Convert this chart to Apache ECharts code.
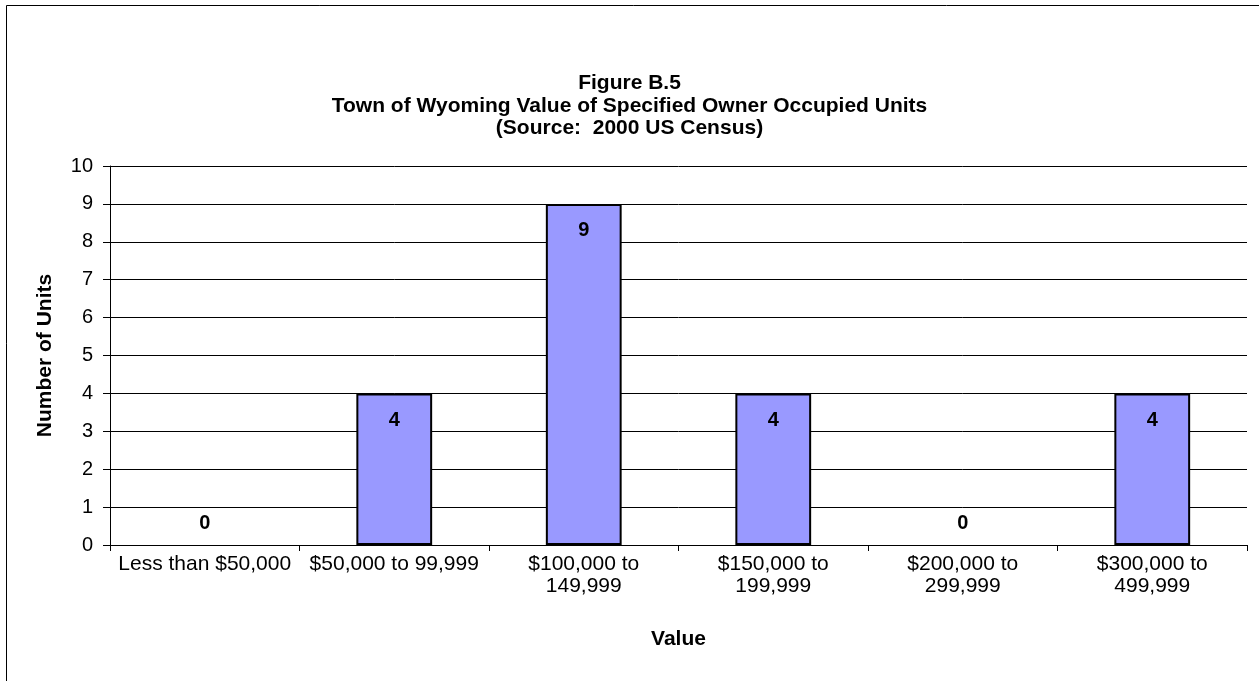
<!DOCTYPE html>
<html>
<head>
<meta charset="utf-8">
<script src="https://cdn.jsdelivr.net/npm/echarts@6/dist/echarts.min.js"></script>
<style>
  html, body { margin: 0; padding: 0; background: #fff; }
  #chart { width: 1259px; height: 681px; }
</style>
</head>
<body>
<div id="chart"></div>
<script>
const categories = [
    "Less than $50,000",
    "$50,000 to 99,999",
    "$100,000 to\n149,999",
    "$150,000 to\n199,999",
    "$200,000 to\n299,999",
    "$300,000 to\n499,999",
];
const units = [0, 4, 9, 4, 0, 4];
const yTicks = [0, 10, 1]; // min, max, interval

const font = "Arial, 'Liberation Sans', sans-serif";

const chart = echarts.init(document.getElementById("chart"));

// zero bars: no outline, label sits just above the axis
const barData = units.map(v => {
    if (v === 0) {
        return {
            value: v,
            itemStyle: { borderWidth: 0 },
            label: { position: "top", distance: 12 },
        };
    }
    return v;
});

const option = {
    animation: false,
    backgroundColor: "#fff",
    textStyle: { fontFamily: font },
    title: {
        text: "Figure B.5\nTown of Wyoming Value of Specified Owner Occupied Units\n(Source:  2000 US Census)",
        left: "center",
        top: 67,
        textStyle: {
            fontFamily: font,
            fontSize: 21,
            fontWeight: "bold",
            color: "#000",
            lineHeight: 22.5,
        },
    },
    graphic: [
        {
            type: "rect",
            shape: { x: 6.5, y: 5.5, width: 1300, height: 700 },
            style: { fill: "none", stroke: "#000", lineWidth: 1 },
            silent: true,
        },
    ],
    grid: {
        left: 110,
        right: 12,
        top: 166,
        bottom: 136,
    },
    xAxis: {
        type: "category",
        data: categories,
        name: "Value",
        nameLocation: "middle",
        nameGap: 84,
        nameTextStyle: {
            fontFamily: font,
            fontSize: 21,
            fontWeight: "bold",
            color: "#000",
        },
        axisLine: { lineStyle: { color: "#000", width: 1 } },
        axisTick: { show: true, length: 6, alignWithLabel: false, lineStyle: { color: "#000" } },
        axisLabel: {
            interval: 0,
            margin: 8,
            fontFamily: font,
            fontSize: 21,
            color: "#000",
            lineHeight: 22,
        },
    },
    yAxis: {
        type: "value",
        min: yTicks[0],
        max: yTicks[1],
        interval: yTicks[2],
        name: "Number of Units",
        nameLocation: "middle",
        nameGap: 54,
        nameTextStyle: {
            fontFamily: font,
            fontSize: 21,
            fontWeight: "bold",
            color: "#000",
        },
        axisLine: { show: true, lineStyle: { color: "#000", width: 1 } },
        axisTick: { show: true, length: 7, lineStyle: { color: "#000" } },
        axisLabel: {
            margin: 17,
            fontFamily: font,
            fontSize: 20,
            color: "#000",
        },
        splitLine: { show: true, lineStyle: { color: "#000", width: 1 } },
    },
    series: [
        {
            type: "bar",
            data: barData,
            barCategoryGap: "60%",
            itemStyle: {
                color: "#9999FF",
                borderColor: "#000",
                borderWidth: 2,
            },
            label: {
                show: true,
                position: "insideTop",
                distance: 17,
                fontFamily: font,
                fontSize: 20,
                fontWeight: "bold",
                color: "#000",
            },
        },
    ],
};

chart.setOption(option);
</script>
</body>
</html>
